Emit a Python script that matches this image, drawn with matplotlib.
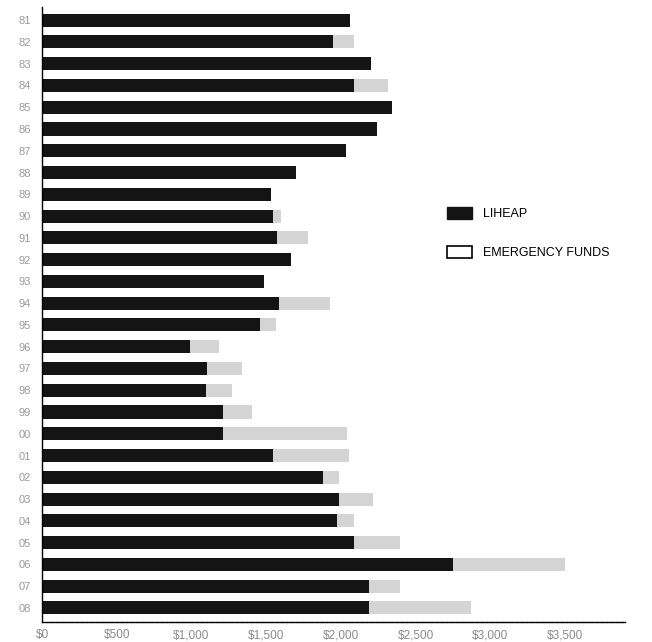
import matplotlib
matplotlib.use("Agg")
import matplotlib.pyplot as plt
from matplotlib.patches import Patch

plt.rcParams['font.family'] = ['Liberation Sans', 'DejaVu Sans']

# years 1981 - 2008, top to bottom
years = ["81", "82", "83", "84", "85", "86", "87", "88", "89", "90",
         "91", "92", "93", "94", "95", "96", "97", "98", "99", "00",
         "01", "02", "03", "04", "05", "06", "07", "08"]
liheap = [2060, 1950, 2200, 2090, 2345, 2240, 2035, 1700, 1535, 1545,
          1575, 1665, 1485, 1585, 1460, 990, 1105, 1100, 1210, 1210,
          1545, 1880, 1990, 1975, 2090, 2750, 2190, 2190]
emergency = [0, 140, 0, 228, 0, 0, 0, 0, 0, 54,
             207, 0, 0, 342, 107, 194, 235, 174, 194, 829,
             509, 107, 228, 113, 308, 750, 207, 682]
xticks = [0, 500, 1000, 1500, 2000, 2500, 3000, 3500]
xticklabels = ["$0", "$500", "$1,000", "$1,500", "$2,000", "$2,500", "$3,000", "$3,500"]

fig = plt.figure(figsize=(6.52, 6.42), dpi=100)
ax = fig.add_axes([0.0644, 0.031, 0.894, 0.958])

pos = list(range(len(years)))
ax.barh(pos, liheap, height=0.6, color="#141414", label="LIHEAP")
ax.barh(pos, emergency, left=liheap, height=0.6, color="#d4d4d4", label="EMERGENCY FUNDS")

ax.set_ylim(len(years) - 1 + 0.65, -0.6)
ax.set_xlim(0, 3900)
ax.set_yticks(pos)
ax.set_yticklabels(years, color="#9a9a9a", fontsize=8)
ax.set_xticks(xticks)
ax.set_xticklabels(xticklabels, color="#8a8a8a", fontsize=8.5)
ax.tick_params(axis="both", length=0, pad=5)
ax.tick_params(axis="y", pad=8)

for s in ["top", "right"]:
    ax.spines[s].set_visible(False)
ax.spines["left"].set_linewidth(1.0)
ax.spines["bottom"].set_linewidth(1.0)
ax.spines["bottom"].set_linestyle((0, (3, 0.6)))

handles = [Patch(facecolor="#141414", edgecolor="#141414", label="LIHEAP"),
           Patch(facecolor="white", edgecolor="black", linewidth=1.2, label="EMERGENCY FUNDS")]
ax.legend(handles=handles, loc="upper left", bbox_to_anchor=(0.675, 0.694),
          frameon=False, fontsize=9, handlelength=2.0, handleheight=1.1,
          labelspacing=2.1, handletextpad=0.9)

fig.savefig("out.png", dpi=100)
